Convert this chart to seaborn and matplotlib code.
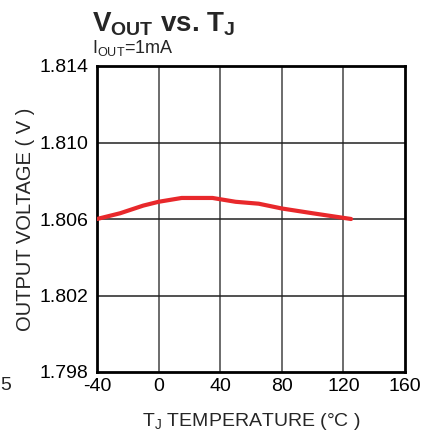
import matplotlib
matplotlib.use("Agg")
import matplotlib.pyplot as plt
import seaborn as sns
import pandas as pd

temps = [-40, -25, -10, 0, 15, 35, 50, 65, 80, 100, 125]
vout = [1.8060, 1.8063, 1.8067, 1.8069, 1.8071, 1.8071, 1.8069, 1.8068, 1.80655, 1.8063, 1.8060]
xticks = [-40, 0, 40, 80, 120, 160]
yticks = [1.798, 1.802, 1.806, 1.810, 1.814]
ytick_labels = ["1.798", "1.802", "1.806", "1.810", "1.814"]

sns.set_style("white")
plt.rcParams['font.family'] = ['Liberation Sans', 'DejaVu Sans']
plt.rcParams['mathtext.fontset'] = 'custom'
plt.rcParams['mathtext.rm'] = 'Liberation Sans'
plt.rcParams['mathtext.bf'] = 'Liberation Sans:bold'
plt.rcParams['axes.unicode_minus'] = False

df = pd.DataFrame({"T": temps, "V": vout})

fig = plt.figure(figsize=(4.27, 4.34), dpi=100)
ax = fig.add_axes([97/427, 1-372/434, (405-97)/427, (372-66)/434])

for x in xticks[1:-1]:
    ax.axvline(x, color='#444444', lw=1.1, zorder=1)
for y in yticks[1:-1]:
    ax.axhline(y, color='#222222', lw=1.1, zorder=1)

sns.lineplot(data=df, x="T", y="V", ax=ax, color='#e8282b', lw=3, zorder=3)

ax.set_xlim(-40, 160)
ax.set_ylim(1.798, 1.814)
ax.set_xticks(xticks)
ax.set_yticks(yticks)
ax.set_yticklabels(ytick_labels)
ax.tick_params(axis='both', length=0, labelsize=14, colors='black')
ax.tick_params(axis='x', pad=4)
ax.tick_params(axis='y', pad=6)
for s in ax.spines.values():
    s.set_visible(True)
    s.set_color('black')
    s.set_linewidth(2)

ax.set_xlabel(r'T$_{\mathrm{J}}$ TEMPERATURE (°C )', fontsize=14, labelpad=12)
ax.set_ylabel('OUTPUT VOLTAGE ( V )', fontsize=14.5, labelpad=3)

fig.text(92/427, 1-32/434, r'$\mathbf{V_{OUT}}$ vs. $\mathbf{T_{J}}$', fontsize=20,
         fontweight='bold', va='baseline', ha='left')
fig.text(92/427, 1-53/434, r'I$_{\mathrm{OUT}}$=1mA', fontsize=13, va='baseline', ha='left')
fig.text(0/427, 1-390/434, '5', fontsize=14, va='baseline', ha='left')

fig.savefig("out.png", dpi=100)
